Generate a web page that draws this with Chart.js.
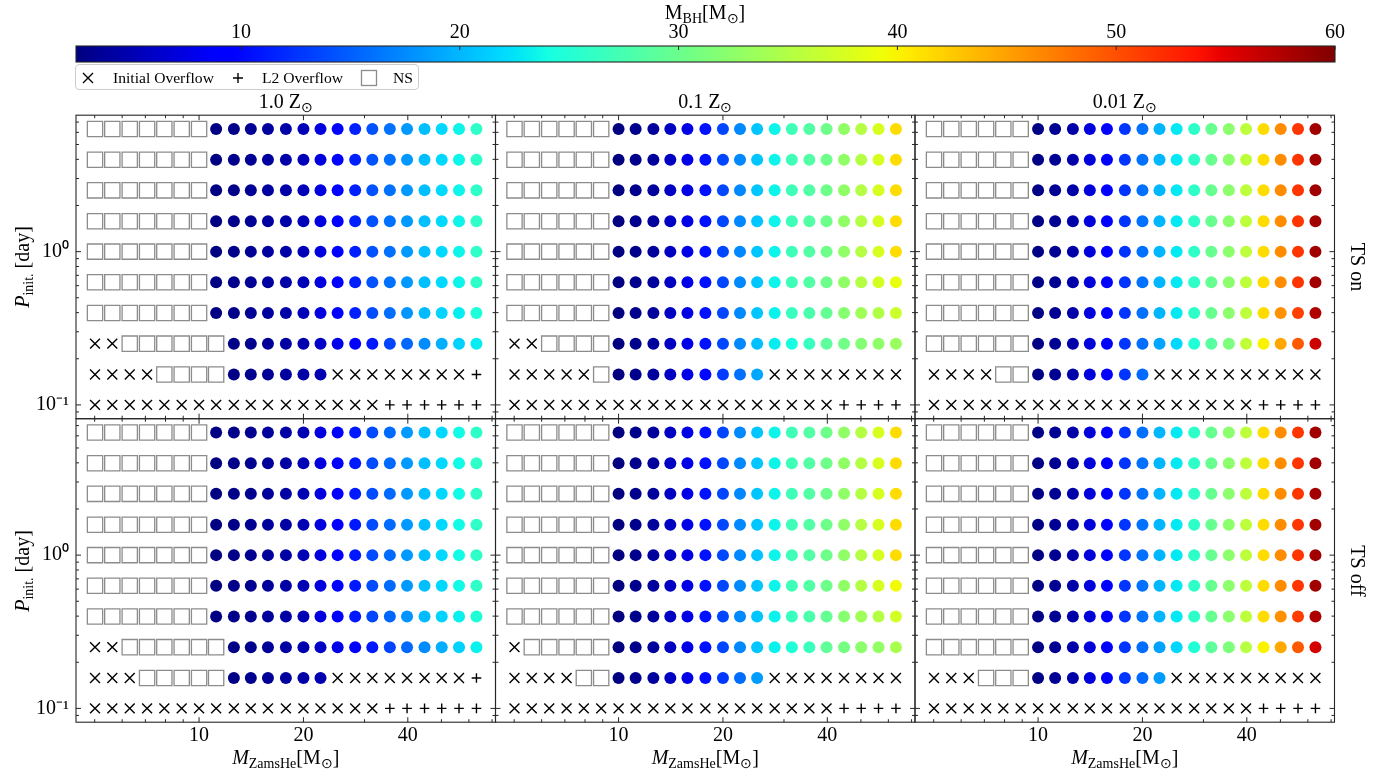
<!DOCTYPE html>
<html>
<head>
<meta charset="utf-8">
<title>Black hole masses of helium-star binaries</title>
<script src="https://cdn.jsdelivr.net/npm/chart.js@4.4.1/dist/chart.umd.min.js"></script>
<style>
  html, body { margin: 0; padding: 0; background: #fff; }
  #fig { position: relative; width: 1395px; height: 773px; overflow: hidden;
         font-family: 'Liberation Serif', 'Times New Roman', serif; color: #000; }
  #fig canvas { position: absolute; left: 0; top: 0; }
  .txt { position: absolute; white-space: nowrap; transform: translate(-50%, -50%);
         font-size: 20px; line-height: 1; }
  .rot-l { transform: translate(-50%, -50%) rotate(-90deg); }
  .rot-r { transform: translate(-50%, -50%) rotate(90deg); }
  .txt sub { font-size: 70%; vertical-align: -0.3em; line-height: 0; }
  #legend { position: absolute; left: 75px; top: 64px; width: 344px; height: 26px;
            border: 1px solid #cccccc; border-radius: 4px; background: rgba(255,255,255,0.8);
            box-sizing: border-box; }
  .lg { position: absolute; font-size: 15.6px; line-height: 1; white-space: nowrap;
        transform: translateY(-50%); }
  .lgm { position: absolute; transform: translate(-50%, -50%); }
</style>
</head>
<body>
<div id="fig">
  <div class="txt" style="left:705px; top:12px;">M<sub>BH</sub>[M<sub>⊙</sub>]</div>

  <div id="legend"></div>
  <svg class="lgm" style="left:88px; top:77.5px;" width="12" height="12" viewBox="0 0 12 12">
    <path d="M1 1 L11 11 M11 1 L1 11" stroke="#000" stroke-width="1.4" fill="none"/></svg>
  <div class="lg" style="left:113px; top:77.5px;">Initial Overflow</div>
  <svg class="lgm" style="left:238px; top:77.5px;" width="12" height="12" viewBox="0 0 12 12">
    <path d="M6 1 L6 11 M1 6 L11 6" stroke="#000" stroke-width="1.4" fill="none"/></svg>
  <div class="lg" style="left:262px; top:77.5px;">L2 Overflow</div>
  <svg class="lgm" style="left:369px; top:77.5px;" width="18" height="18" viewBox="0 0 18 18">
    <rect x="1.5" y="1.5" width="15" height="15" stroke="#8c8c8c" stroke-width="1.3" fill="none"/></svg>
  <div class="lg" style="left:393px; top:77.5px;">NS</div>

  <div class="txt" style="left:285.75px; top:101px;">1.0 Z<sub>⊙</sub></div>
  <div class="txt" style="left:705.25px; top:101px;">0.1 Z<sub>⊙</sub></div>
  <div class="txt" style="left:1124.75px; top:101px;">0.01 Z<sub>⊙</sub></div>

  <div class="txt rot-l" style="left:22px; top:267px;"><i>P</i><sub>init.</sub> [day]</div>
  <div class="txt rot-l" style="left:22px; top:570.5px;"><i>P</i><sub>init.</sub> [day]</div>

  <div class="txt rot-r" style="left:1358px; top:267px;">TS on</div>
  <div class="txt rot-r" style="left:1358px; top:570.5px;">TS off</div>

  <div class="txt" style="left:285.75px; top:757px;"><i>M</i><sub>ZamsHe</sub>[M<sub>⊙</sub>]</div>
  <div class="txt" style="left:705.25px; top:757px;"><i>M</i><sub>ZamsHe</sub>[M<sub>⊙</sub>]</div>
  <div class="txt" style="left:1124.75px; top:757px;"><i>M</i><sub>ZamsHe</sub>[M<sub>⊙</sub>]</div>
</div>

<script>
// ---- grid of models -------------------------------------------------------
// Initial helium-star masses [Msun] (columns) and initial orbital periods [day] (rows, longest first)
const heMass = [5.01, 5.62, 6.31, 7.08, 7.94, 8.91, 10.0, 11.2, 12.6, 14.1, 15.8, 17.8,
                20.0, 22.4, 25.1, 28.2, 31.6, 35.5, 39.8, 44.7, 50.1, 56.2, 63.1];
const periods = [6.31, 3.98, 2.51, 1.58, 1.0, 0.631, 0.398, 0.251, 0.158, 0.1];

// axis ticks
const xTickLabels = [10, 20, 40];
const xMajorTicks = [10, 20, 40];
const xMinorTicks = [5, 6, 7, 8, 9, 30, 50, 60, 70];
const yTickLabels = [0.1, 1];
const yMajorTicks = [0.1, 1];
const yMinorTicks = [0.09, 0.2, 0.3, 0.4, 0.5, 0.6, 0.7, 0.8, 0.9, 2, 3, 4, 5, 6, 7];
const cbarTicks = [10, 20, 30, 40, 50, 60];
const cbarMin = 2.46, cbarMax = 60;

// Outcome codes per model: n = neutron star, b = black hole,
// x = overflow at the start, + = overflow through L2
const outcomesZ1On = [
  "nnnnnnnbbbbbbbbbbbbbbbb",
  "nnnnnnnbbbbbbbbbbbbbbbb",
  "nnnnnnnbbbbbbbbbbbbbbbb",
  "nnnnnnnbbbbbbbbbbbbbbbb",
  "nnnnnnnbbbbbbbbbbbbbbbb",
  "nnnnnnnbbbbbbbbbbbbbbbb",
  "nnnnnnnbbbbbbbbbbbbbbbb",
  "xxnnnnnnbbbbbbbbbbbbbbb",
  "xxxxnnnnbbbbbbxxxxxxxx+",
  "xxxxxxxxxxxxxxxxx++++++"
];
const outcomesZ01On = [
  "nnnnnnbbbbbbbbbbbbbbbbb",
  "nnnnnnbbbbbbbbbbbbbbbbb",
  "nnnnnnbbbbbbbbbbbbbbbbb",
  "nnnnnnbbbbbbbbbbbbbbbbb",
  "nnnnnnbbbbbbbbbbbbbbbbb",
  "nnnnnnbbbbbbbbbbbbbbbbb",
  "nnnnnnbbbbbbbbbbbbbbbbb",
  "xxnnnnbbbbbbbbbbbbbbbbb",
  "xxxxxnbbbbbbbbbxxxxxxxx",
  "xxxxxxxxxxxxxxxxxxx++++"
];
const outcomesZ001On = [
  "nnnnnnbbbbbbbbbbbbbbbbb",
  "nnnnnnbbbbbbbbbbbbbbbbb",
  "nnnnnnbbbbbbbbbbbbbbbbb",
  "nnnnnnbbbbbbbbbbbbbbbbb",
  "nnnnnnbbbbbbbbbbbbbbbbb",
  "nnnnnnbbbbbbbbbbbbbbbbb",
  "nnnnnnbbbbbbbbbbbbbbbbb",
  "nnnnnnbbbbbbbbbbbbbbbbb",
  "xxxxnnbbbbbbbxxxxxxxxxx",
  "xxxxxxxxxxxxxxxxxxx++++"
];
const outcomesZ1Off = [
  "nnnnnnnbbbbbbbbbbbbbbbb",
  "nnnnnnnbbbbbbbbbbbbbbbb",
  "nnnnnnnbbbbbbbbbbbbbbbb",
  "nnnnnnnbbbbbbbbbbbbbbbb",
  "nnnnnnnbbbbbbbbbbbbbbbb",
  "nnnnnnnbbbbbbbbbbbbbbbb",
  "nnnnnnnbbbbbbbbbbbbbbbb",
  "xxnnnnnnbbbbbbbbbbbbbbb",
  "xxxnnnnnbbbbbbxxxxxxxx+",
  "xxxxxxxxxxxxxxxxx++++++"
];
const outcomesZ01Off = [
  "nnnnnnbbbbbbbbbbbbbbbbb",
  "nnnnnnbbbbbbbbbbbbbbbbb",
  "nnnnnnbbbbbbbbbbbbbbbbb",
  "nnnnnnbbbbbbbbbbbbbbbbb",
  "nnnnnnbbbbbbbbbbbbbbbbb",
  "nnnnnnbbbbbbbbbbbbbbbbb",
  "nnnnnnbbbbbbbbbbbbbbbbb",
  "xnnnnnbbbbbbbbbbbbbbbbb",
  "xxxxnnbbbbbbbbbxxxxxxxx",
  "xxxxxxxxxxxxxxxxxxx++++"
];
const outcomesZ001Off = [
  "nnnnnnbbbbbbbbbbbbbbbbb",
  "nnnnnnbbbbbbbbbbbbbbbbb",
  "nnnnnnbbbbbbbbbbbbbbbbb",
  "nnnnnnbbbbbbbbbbbbbbbbb",
  "nnnnnnbbbbbbbbbbbbbbbbb",
  "nnnnnnbbbbbbbbbbbbbbbbb",
  "nnnnnnbbbbbbbbbbbbbbbbb",
  "nnnnnnbbbbbbbbbbbbbbbbb",
  "xxxnnnbbbbbbbbxxxxxxxxx",
  "xxxxxxxxxxxxxxxxxxx++++"
];

// Black-hole masses [Msun], listed left to right for the 'b' models of each row
const bhZ1OnLong = [2.6, 3.0, 3.5, 4.0, 4.5, 5.3, 7.2, 9.1, 11.4, 14.2, 16.0, 18.3, 20.4, 21.9, 23.5, 25.8];
const bhZ1OnP040 = [2.6, 3.0, 3.5, 4.0, 4.5, 5.3, 7.2, 9.1, 11.4, 14.0, 15.8, 18.0, 20.2, 21.6, 23.0, 24.6];
const bhZ1OnP025 = [2.8, 3.2, 3.7, 4.2, 4.8, 6.0, 7.8, 9.3, 11.0, 13.5, 15.5, 17.5, 19.5, 21.5, 23.0];
const bhZ1OnP016 = [2.8, 3.2, 3.6, 4.0, 4.4, 4.9];
const bhZ1On = [bhZ1OnLong, bhZ1OnLong, bhZ1OnLong, bhZ1OnLong, bhZ1OnLong, bhZ1OnLong,
                bhZ1OnP040, bhZ1OnP025, bhZ1OnP016, []];

const bhZ1OffLong = [2.6, 2.9, 3.3, 3.8, 4.3, 5.1, 7.2, 9.1, 11.0, 13.8, 15.6, 18.3, 20.4, 21.9, 23.8, 25.8];
const bhZ1OffP040 = [2.6, 2.9, 3.3, 3.8, 4.3, 5.1, 7.2, 9.1, 11.0, 13.6, 15.4, 18.0, 20.2, 21.6, 23.2, 24.8];
const bhZ1OffP025 = [2.8, 3.2, 3.7, 4.2, 4.8, 6.0, 7.8, 9.3, 11.0, 13.5, 15.5, 17.5, 19.5, 21.5, 23.3];
const bhZ1OffP016 = [2.8, 3.2, 3.6, 4.0, 4.4, 4.9];
const bhZ1Off = [bhZ1OffLong, bhZ1OffLong, bhZ1OffLong, bhZ1OffLong, bhZ1OffLong, bhZ1OffLong,
                 bhZ1OffP040, bhZ1OffP025, bhZ1OffP016, []];

const bhZ01OnLong = [2.5, 3.1, 3.9, 5.8, 7.6, 10.6, 13.6, 17.3, 20.8, 23.5, 27.0, 28.3, 30.2, 32.7, 35.2, 37.6, 41.4];
const bhZ01OnP063 = [2.5, 3.1, 3.9, 5.8, 7.6, 10.6, 13.6, 17.3, 20.8, 23.5, 27.0, 28.3, 30.2, 32.7, 35.2, 37.4, 38.8];
const bhZ01OnP040 = [2.5, 3.1, 3.9, 5.8, 7.6, 10.6, 13.6, 17.3, 20.8, 23.3, 26.5, 27.8, 29.5, 32.0, 33.8, 35.0, 36.8];
const bhZ01OnP025 = [2.5, 3.1, 3.9, 5.8, 7.6, 10.6, 13.6, 17.3, 20.5, 23.0, 24.2, 26.5, 29.0, 30.5, 31.8, 32.5, 33.2];
const bhZ01OnP016 = [2.5, 3.1, 3.9, 5.8, 7.6, 10.0, 13.0, 16.0, 19.0];
const bhZ01On = [bhZ01OnLong, bhZ01OnLong, bhZ01OnLong, bhZ01OnLong, bhZ01OnLong,
                 bhZ01OnP063, bhZ01OnP040, bhZ01OnP025, bhZ01OnP016, []];

const bhZ01OffLong = [2.5, 3.1, 3.9, 5.8, 7.6, 10.6, 13.6, 17.3, 20.8, 23.5, 27.0, 28.3, 30.2, 32.7, 35.2, 37.6, 41.4];
const bhZ01OffP063 = [2.5, 3.1, 3.9, 5.8, 7.6, 10.6, 13.6, 17.3, 20.8, 23.5, 27.0, 28.3, 30.2, 32.7, 35.2, 37.6, 39.5];
const bhZ01OffP040 = [2.5, 3.1, 3.9, 5.8, 7.6, 10.6, 13.6, 17.3, 20.8, 23.3, 26.5, 27.8, 29.5, 32.0, 33.8, 35.2, 37.2];
const bhZ01OffP025 = [2.5, 3.1, 3.9, 5.8, 7.6, 10.6, 13.6, 17.3, 20.8, 23.3, 24.8, 26.7, 29.3, 30.8, 32.3, 32.8, 34.4];
const bhZ01OffP016 = [2.5, 3.1, 3.9, 5.8, 7.6, 10.4, 12.8, 15.8, 18.5];
const bhZ01Off = [bhZ01OffLong, bhZ01OffLong, bhZ01OffLong, bhZ01OffLong, bhZ01OffLong,
                  bhZ01OffP063, bhZ01OffP040, bhZ01OffP025, bhZ01OffP016, []];

const bhZ001OnLong = [2.8, 3.4, 4.5, 7.0, 9.3, 12.6, 16.0, 20.0, 22.8, 25.8, 29.8, 32.3, 35.8, 41.4, 46.3, 51.6, 58.3];
const bhZ001OnP040 = [2.8, 3.4, 4.5, 7.0, 9.3, 12.6, 16.0, 20.0, 22.8, 25.8, 29.8, 32.3, 35.8, 41.4, 46.0, 51.0, 57.6];
const bhZ001OnP025 = [2.8, 3.4, 4.5, 7.0, 9.3, 12.6, 15.8, 19.0, 21.8, 24.9, 28.7, 31.2, 36.0, 40.0, 44.7, 49.4, 56.2];
const bhZ001OnP016 = [2.8, 3.4, 4.5, 7.0, 9.3, 12.6, 15.5];
const bhZ001On = [bhZ001OnLong, bhZ001OnLong, bhZ001OnLong, bhZ001OnLong, bhZ001OnLong, bhZ001OnLong,
                  bhZ001OnP040, bhZ001OnP025, bhZ001OnP016, []];

const bhZ001OffLong = [2.8, 3.4, 4.5, 7.0, 9.3, 12.6, 16.0, 20.0, 22.8, 25.8, 29.8, 32.3, 35.8, 41.4, 46.3, 51.6, 58.3];
const bhZ001OffP040 = [2.8, 3.4, 4.5, 7.0, 9.3, 12.6, 16.0, 20.0, 22.8, 25.8, 29.8, 32.3, 35.8, 41.4, 46.0, 51.2, 57.8];
const bhZ001OffP025 = [2.8, 3.4, 4.5, 7.0, 9.3, 12.6, 15.8, 18.8, 21.8, 24.9, 29.0, 31.3, 35.4, 40.0, 44.6, 49.4, 55.8];
const bhZ001OffP016 = [2.8, 3.4, 4.5, 7.0, 9.3, 12.6, 15.6, 18.4];
const bhZ001Off = [bhZ001OffLong, bhZ001OffLong, bhZ001OffLong, bhZ001OffLong, bhZ001OffLong, bhZ001OffLong,
                   bhZ001OffP040, bhZ001OffP025, bhZ001OffP016, []];

// ---- layout ---------------------------------------------------------------
const FIG_W = 1395, FIG_H = 773;
const colLeft = [76, 495.5, 915];
const rowTop = [115.2, 418.7];
const PANEL_W = 419.5, PANEL_H = 303.5;
const Y_AXIS_W = 76, X_AXIS_H = 40;
const xRange = [4.416, 71.61];   // log-axis limits with 5% margins
const yRange = [0.0813, 7.762];

const panels = [
  { col: 0, row: 0, outcomes: outcomesZ1On,    bh: bhZ1On },
  { col: 1, row: 0, outcomes: outcomesZ01On,   bh: bhZ01On },
  { col: 2, row: 0, outcomes: outcomesZ001On,  bh: bhZ001On },
  { col: 0, row: 1, outcomes: outcomesZ1Off,   bh: bhZ1Off },
  { col: 1, row: 1, outcomes: outcomesZ01Off,  bh: bhZ01Off },
  { col: 2, row: 1, outcomes: outcomesZ001Off, bh: bhZ001Off }
];

Chart.defaults.font.family = "'Liberation Serif', 'Times New Roman', serif";
Chart.defaults.color = '#000';

// matplotlib "jet" colour map, piecewise linear
const JET = {
  r: [[0, 0], [0.35, 0], [0.66, 1], [0.89, 1], [1, 0.5]],
  g: [[0, 0], [0.125, 0], [0.375, 1], [0.64, 1], [0.91, 0], [1, 0]],
  b: [[0, 0.5], [0.11, 1], [0.34, 1], [0.65, 0], [1, 0]]
};
const JET_STOPS = [0, 0.11, 0.125, 0.34, 0.35, 0.375, 0.64, 0.65, 0.66, 0.89, 0.91, 1];
function seg(pts, t) {
  for (let i = 1; i < pts.length; i++) {
    if (t <= pts[i][0]) {
      const [x0, y0] = pts[i - 1], [x1, y1] = pts[i];
      return y0 + (y1 - y0) * (t - x0) / (x1 - x0);
    }
  }
  return pts[pts.length - 1][1];
}
function jet(t) {
  t = Math.min(1, Math.max(0, t));
  const c = k => Math.round(seg(JET[k], t) * 255);
  return `rgb(${c('r')},${c('g')},${c('b')})`;
}
const massColor = m => jet((m - cbarMin) / (cbarMax - cbarMin));

function superscript(n) {
  const map = { '-': '⁻', '0': '⁰', '1': '¹', '2': '²', '3': '³', '4': '⁴',
                '5': '⁵', '6': '⁶', '7': '⁷', '8': '⁸', '9': '⁹' };
  return String(n).split('').map(ch => map[ch]).join('');
}

function buildDatasets(outcomes, bh) {
  const ovf = [], l2 = [], ns = [], bhPts = [], bhCols = [];
  outcomes.forEach((row, r) => {
    if (row.length !== heMass.length) throw new Error('row length ' + r);
    let k = 0;
    [...row].forEach((code, c) => {
      const pt = { x: heMass[c], y: periods[r] };
      if (code === 'x') ovf.push(pt);
      else if (code === '+') l2.push(pt);
      else if (code === 'n') ns.push(pt);
      else {
        const m = bh[r][k++];
        bhPts.push(pt);
        bhCols.push(massColor(m));
      }
    });
    if (k !== bh[r].length) throw new Error('bh count row ' + r);
  });
  return [
    { label: 'NS', data: ns, pointStyle: 'rect', pointRadius: 10.8,
      pointBackgroundColor: 'rgba(0,0,0,0)', pointBorderColor: '#8c8c8c', pointBorderWidth: 1.3 },
    { label: 'BH', data: bhPts, pointStyle: 'circle', pointRadius: 6,
      pointBackgroundColor: bhCols, pointBorderWidth: 0, pointBorderColor: 'rgba(0,0,0,0)' },
    { label: 'Initial Overflow', data: ovf, pointStyle: 'crossRot', pointRadius: 7,
      pointBorderColor: '#000', pointBorderWidth: 1.4 },
    { label: 'L2 Overflow', data: l2, pointStyle: 'cross', pointRadius: 4.8,
      pointBorderColor: '#000', pointBorderWidth: 1.4 }
  ];
}

// frame and inward tick marks on all four sides of a panel
const panelFrame = {
  id: 'panelFrame',
  afterDatasetsDraw(chart) {
    const { ctx, chartArea: a, scales: { x, y } } = chart;
    ctx.save();
    ctx.strokeStyle = '#262626';
    ctx.lineWidth = 1;
    const line = (x0, y0, x1, y1) => { ctx.beginPath(); ctx.moveTo(x0, y0); ctx.lineTo(x1, y1); ctx.stroke(); };
    [[xMajorTicks, 5], [xMinorTicks, 3]].forEach(([vals, len]) => vals.forEach(v => {
      const px = x.getPixelForValue(v);
      if (px < a.left || px > a.right) return;
      line(px, a.bottom, px, a.bottom - len);
      line(px, a.top, px, a.top + len);
    }));
    [[yMajorTicks, 5], [yMinorTicks, 3]].forEach(([vals, len]) => vals.forEach(v => {
      const py = y.getPixelForValue(v);
      if (py < a.top || py > a.bottom) return;
      line(a.left, py, a.left + len, py);
      line(a.right, py, a.right - len, py);
    }));
    ctx.lineWidth = 1.1;
    ctx.strokeRect(a.left, a.top, a.right - a.left, a.bottom - a.top);
    ctx.restore();
  }
};

const fig = document.getElementById('fig');
function newCanvas() {
  const cv = document.createElement('canvas');
  cv.width = FIG_W; cv.height = FIG_H;
  fig.insertBefore(cv, fig.firstChild);
  return cv;
}

panels.forEach(p => {
  const L = colLeft[p.col], T = rowTop[p.row];
  const R = L + PANEL_W, B = T + PANEL_H;
  const showY = p.col === 0, showX = p.row === 1;
  const yW = showY ? Y_AXIS_W : 0, xH = showX ? X_AXIS_H : 0;
  new Chart(newCanvas(), {
    type: 'scatter',
    data: { datasets: buildDatasets(p.outcomes, p.bh) },
    options: {
      responsive: false, animation: false, events: [],
      layout: { padding: { left: L - yW, top: T, right: FIG_W - R, bottom: FIG_H - B - xH } },
      plugins: { legend: { display: false }, tooltip: { enabled: false } },
      scales: {
        x: {
          type: 'logarithmic', min: xRange[0], max: xRange[1], display: showX,
          afterBuildTicks: s => { s.ticks = xTickLabels.map(v => ({ value: v })); },
          afterFit: s => { s.height = xH; },
          grid: { display: false, drawTicks: false }, border: { display: false },
          ticks: { autoSkip: false, maxRotation: 0, padding: 2, font: { size: 20 }, color: '#000',
                   callback: v => String(v) }
        },
        y: {
          type: 'logarithmic', min: yRange[0], max: yRange[1], display: showY,
          afterBuildTicks: s => { s.ticks = yTickLabels.map(v => ({ value: v })); },
          afterFit: s => { s.width = yW; },
          grid: { display: false, drawTicks: false }, border: { display: false },
          ticks: { autoSkip: false, padding: 7, font: { size: 20 }, color: '#000',
                   callback: v => '10' + superscript(Math.round(Math.log10(v))) }
        }
      }
    },
    plugins: [panelFrame]
  });
});

// ---- colour bar -----------------------------------------------------------
const CB = { left: 76, right: 1335, top: 46, bottom: 62, axisH: 26 };
const colorbarFill = {
  id: 'colorbarFill',
  beforeDatasetsDraw(chart) {
    const { ctx, chartArea: a, scales: { x } } = chart;
    const x0 = x.getPixelForValue(cbarMin), x1 = x.getPixelForValue(cbarMax);
    const g = ctx.createLinearGradient(x0, 0, x1, 0);
    JET_STOPS.forEach(t => g.addColorStop(t, jet(t)));
    ctx.save();
    ctx.fillStyle = g;
    ctx.fillRect(a.left, a.top, a.right - a.left, a.bottom - a.top);
    ctx.strokeStyle = '#262626';
    ctx.lineWidth = 1;
    cbarTicks.forEach(v => {
      const px = x.getPixelForValue(v);
      ctx.beginPath(); ctx.moveTo(px, a.top); ctx.lineTo(px, a.top + 4); ctx.stroke();
    });
    ctx.lineWidth = 1.1;
    ctx.strokeRect(a.left, a.top, a.right - a.left, a.bottom - a.top);
    ctx.restore();
  }
};
new Chart(newCanvas(), {
  type: 'scatter',
  data: { datasets: [] },
  options: {
    responsive: false, animation: false, events: [],
    layout: { padding: { left: CB.left, right: FIG_W - CB.right,
                         top: CB.top - CB.axisH, bottom: FIG_H - CB.bottom } },
    plugins: { legend: { display: false }, tooltip: { enabled: false } },
    scales: {
      x: {
        type: 'linear', position: 'top', min: cbarMin, max: cbarMax,
        afterBuildTicks: s => { s.ticks = cbarTicks.map(v => ({ value: v })); },
        afterFit: s => { s.height = CB.axisH; },
        grid: { display: false, drawTicks: false }, border: { display: false },
        ticks: { autoSkip: false, maxRotation: 0, padding: 1, font: { size: 20 }, color: '#000',
                 callback: v => String(v) }
      },
      y: { display: false, min: 0, max: 1 }
    }
  },
  plugins: [colorbarFill]
});
</script>
</body>
</html>
